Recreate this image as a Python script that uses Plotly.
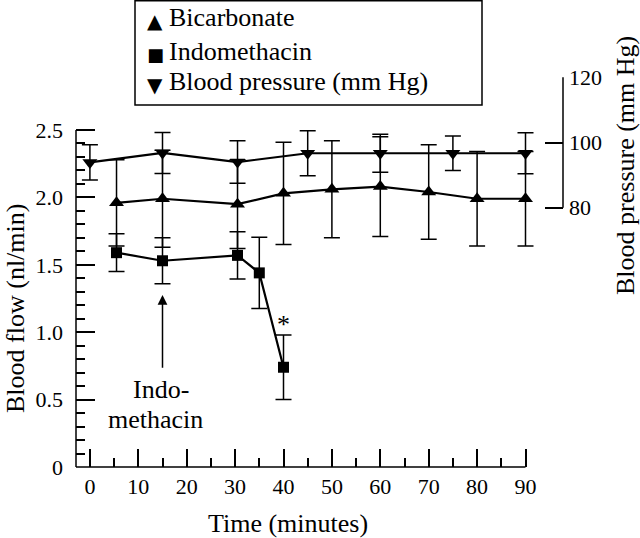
import plotly.graph_objects as go

# ---------------- data ----------------
bicarb_t = [5.5, 15, 30.5, 40, 50, 60, 70, 80, 90]
bicarb = [1.96, 1.99, 1.95, 2.03, 2.06, 2.08, 2.04, 1.99, 1.99]
bicarb_err = [0.32, 0.36, 0.33, 0.38, 0.36, 0.37, 0.35, 0.35, 0.35]

indo_t = [5.5, 15, 30.5, 35, 40]
indo = [1.59, 1.53, 1.57, 1.44, 0.74]
indo_err = [0.14, 0.17, 0.175, 0.265, 0.24]

bp_t = [0, 15, 30.5, 45, 60, 75, 90]
bp = [93.9, 96.8, 94.0, 96.7, 96.7, 96.7, 96.7]
bp_err = [5.4, 6.3, 6.5, 6.9, 5.8, 5.3, 6.3]

x_ticks = [0, 10, 20, 30, 40, 50, 60, 70, 80, 90]
x_minor = [5, 15, 25, 35, 45, 55, 65, 75, 85]
y_ticks = [0, 0.5, 1.0, 1.5, 2.0, 2.5]
y_ticktext = ["0", "0.5", "1.0", "1.5", "2.0", "2.5"]
y_minor = [0.1, 0.2, 0.3, 0.4, 0.6, 0.7, 0.8, 0.9, 1.1, 1.2, 1.3, 1.4,
           1.6, 1.7, 1.8, 1.9, 2.1, 2.2, 2.3, 2.4]
y2_ticks = [80, 100, 120]

legend_labels = ["Bicarbonate", "Indomethacin", "Blood pressure (mm Hg)"]
legend_glyphs = ["\u25B2", "\u25A0", "\u25BC"]

# ---------------- geometry ----------------
W, H = 640, 538
ML, MR, MT, MB = 76, 77, 77, 71
PW, PH = W - ML - MR, H - MT - MB


def px(xp):
    return (xp - ML) / PW


def py(yp):
    return (H - MB - yp) / PH


FONT = "Liberation Serif, Times New Roman, serif"
BLACK = "black"

fig = go.Figure()

err_style = dict(type="data", color=BLACK, thickness=1.5, width=8)

fig.add_trace(go.Scatter(
    x=bicarb_t, y=bicarb, name=legend_labels[0], mode="lines+markers",
    line=dict(color=BLACK, width=2.2),
    marker=dict(symbol="triangle-up", size=13, color=BLACK),
    error_y=dict(array=bicarb_err, **err_style),
    cliponaxis=False, yaxis="y"))

fig.add_trace(go.Scatter(
    x=indo_t, y=indo, name=legend_labels[1], mode="lines+markers",
    line=dict(color=BLACK, width=2.2),
    marker=dict(symbol="square", size=11, color=BLACK),
    error_y=dict(array=indo_err, **err_style),
    cliponaxis=False, yaxis="y"))

fig.add_trace(go.Scatter(
    x=bp_t, y=bp, name=legend_labels[2], mode="lines+markers",
    line=dict(color=BLACK, width=2.2),
    marker=dict(symbol="triangle-down", size=13, color=BLACK),
    error_y=dict(array=bp_err, **err_style),
    cliponaxis=False, yaxis="y2"))

x_per_min = 4.84
x0_px = 89.9
x_range = [(ML - x0_px) / x_per_min, (545 - x0_px) / x_per_min]
x_dom_end = (545 - ML) / PW

y_scale = 134.8
y_range = [0, PH / y_scale]
y2_per = 3.26
y2_80 = 207.7
y2_range = [80 - (H - MB - y2_80) / y2_per, 80 + (y2_80 - MT) / y2_per]

fig.update_layout(
    width=W, height=H,
    margin=dict(l=ML, r=MR, t=MT, b=MB),
    paper_bgcolor="white", plot_bgcolor="white",
    showlegend=False,
    font=dict(family=FONT, size=22, color=BLACK),
    xaxis=dict(
        domain=[0, x_dom_end], range=x_range,
        tickmode="array", tickvals=x_ticks,
        ticks="inside", ticklen=18, tickwidth=1.5, tickcolor=BLACK,
        minor=dict(tickmode="array", tickvals=x_minor, ticks="inside",
                   ticklen=9, tickwidth=1.5, tickcolor=BLACK),
        showline=False, showgrid=False, zeroline=False,
        tickfont=dict(family=FONT, size=22, color=BLACK),
        ticklabelstandoff=4,
    ),
    yaxis=dict(
        range=y_range,
        tickmode="array", tickvals=y_ticks, ticktext=y_ticktext,
        ticks="inside", ticklen=19, tickwidth=1.5, tickcolor=BLACK,
        minor=dict(tickmode="array", tickvals=y_minor, ticks="inside",
                   ticklen=9, tickwidth=1.5, tickcolor=BLACK),
        showline=False, showgrid=False, zeroline=False,
        tickfont=dict(family=FONT, size=22, color=BLACK),
        ticklabelstandoff=12,
    ),
    yaxis2=dict(
        overlaying="y", side="right", anchor="free", position=1,
        range=y2_range,
        tickmode="array", tickvals=y2_ticks,
        ticks="inside", ticklen=18, tickwidth=1.5, tickcolor=BLACK,
        showline=False, showgrid=False, zeroline=False,
        tickfont=dict(family=FONT, size=22, color=BLACK),
        ticklabelstandoff=5,
    ),
)

shapes = [
    # x axis line (ends at 90 min)
    dict(type="line", xref="x", yref="paper", x0=x_range[0], x1=90, y0=0, y1=0,
         line=dict(color=BLACK, width=1.5)),
    # left axis line 0 - 2.5
    dict(type="line", xref="paper", yref="y", x0=0, x1=0, y0=0, y1=2.5,
         line=dict(color=BLACK, width=1.5)),
    # right axis line 80 - 120
    dict(type="line", xref="paper", yref="y2", x0=1, x1=1, y0=80, y1=120,
         line=dict(color=BLACK, width=1.5)),
    # legend box
    dict(type="rect", xref="paper", yref="paper",
         x0=px(135), x1=px(482), y0=py(105), y1=py(0.8),
         line=dict(color=BLACK, width=1.5), fillcolor="rgba(0,0,0,0)"),
]
fig.update_layout(shapes=shapes)

ann = []
# axis titles
ann.append(dict(text="Time (minutes)", xref="paper", yref="paper",
                x=px(288), y=py(523), showarrow=False,
                xanchor="center", yanchor="middle",
                font=dict(family=FONT, size=26, color=BLACK)))
ann.append(dict(text="Blood flow (nl/min)", xref="paper", yref="paper",
                x=px(15), y=py(309), showarrow=False, textangle=-90,
                xanchor="center", yanchor="middle",
                font=dict(family=FONT, size=26, color=BLACK)))
ann.append(dict(text="Blood pressure (mm Hg)", xref="paper", yref="paper",
                x=px(625), y=py(166), showarrow=False, textangle=-90,
                xanchor="center", yanchor="middle",
                font=dict(family=FONT, size=26, color=BLACK)))

# legend entries
leg_centers = [17.9, 51.2, 81.2]
glyph_centers = [21, 54, 85]
glyph_sizes = [20, 18, 20]
for lab, gl, yc, gc, gs in zip(legend_labels, legend_glyphs, leg_centers,
                               glyph_centers, glyph_sizes):
    ann.append(dict(text=lab, xref="paper", yref="paper", x=px(167), y=py(yc),
                    showarrow=False, xanchor="left", yanchor="middle",
                    font=dict(family=FONT, size=26, color=BLACK)))
    ann.append(dict(text=gl, xref="paper", yref="paper", x=px(155), y=py(gc),
                    showarrow=False, xanchor="center", yanchor="middle",
                    font=dict(family="DejaVu Sans", size=gs, color=BLACK)))

# arrow marking indomethacin start
ann.append(dict(text="", x=15, y=(H - MB - 295) / y_scale, xref="x", yref="y",
                ax=15, ay=(H - MB - 369.3) / y_scale, axref="x", ayref="y",
                showarrow=True, arrowhead=2, arrowsize=1.3, arrowwidth=1.5,
                arrowcolor=BLACK))
ann.append(dict(text="Indo-", xref="paper", yref="paper", x=px(161), y=py(389),
                showarrow=False, xanchor="center", yanchor="middle",
                font=dict(family=FONT, size=26, color=BLACK)))
ann.append(dict(text="methacin", xref="paper", yref="paper", x=px(155), y=py(419.2),
                showarrow=False, xanchor="center", yanchor="middle",
                font=dict(family=FONT, size=26, color=BLACK)))
# significance asterisk
ann.append(dict(text="*", x=indo_t[-1], y=indo[-1] + indo_err[-1], xref="x", yref="y",
                showarrow=False, xanchor="center", yanchor="middle", yshift=10,
                font=dict(family=FONT, size=26, color=BLACK)))

fig.update_layout(annotations=ann)

# remove the browser's default 8px body margin so the figure sits at (0, 0)
fig.write_html("out.html",
               config={"displayModeBar": False},
               post_script="document.body.style.margin='0';"
                           "document.body.style.overflow='hidden';")
